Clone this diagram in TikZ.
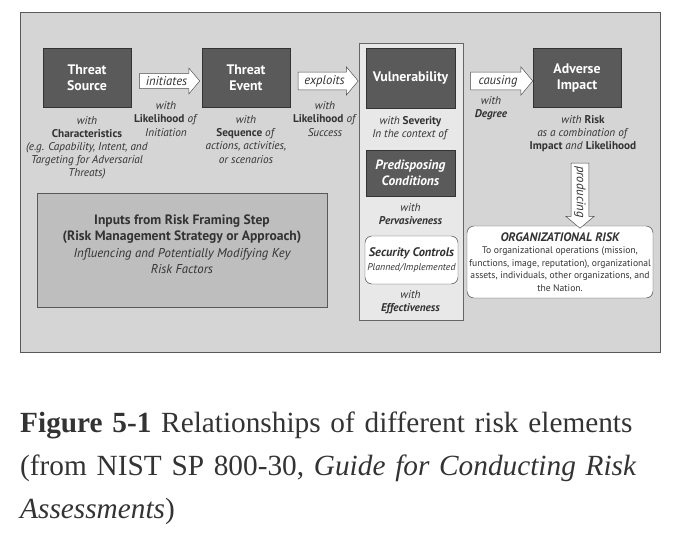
\documentclass[tikz,border=0pt]{standalone}
\usepackage{fontspec}
\setmainfont{Liberation Serif}
\newfontfamily\diagfont{PT Sans}
\usetikzlibrary{shapes.arrows,positioning,calc}

\definecolor{panelgray}{HTML}{D5D5D5}
\definecolor{boxdark}{HTML}{5A5A5A}
\definecolor{columngray}{HTML}{E8E8E8}
\definecolor{inputgray}{HTML}{BEBEBE}
\definecolor{inkgray}{HTML}{333333}

\begin{document}
\begin{tikzpicture}[x=0.03cm, y=-0.03cm,
  element/.style={draw=black!80, fill=boxdark, text=white, align=center,
    font=\diagfont\bfseries\fontsize{11.8}{13.5}\selectfont,
    minimum width=2.64cm, minimum height=1.77cm, inner sep=2pt},
  note/.style={font=\diagfont\fontsize{9.6}{11.2}\selectfont, align=center, text=inkgray, inner sep=0pt},
  flow/.style={single arrow, draw=black!70, fill=white, text=inkgray,
    font=\diagfont\itshape\fontsize{10.8}{12}\selectfont,
    single arrow head extend=4.5pt, single arrow tip angle=100,
    minimum height=1.8cm, inner sep=2.4pt},
  softbox/.style={draw=black!75, fill=white, rounded corners=6pt, align=center, text=inkgray}]
\useasboundingbox (0,0) rectangle (686,542);
% Background panels
\node[draw=black!65, fill=panelgray, minimum width=19.2cm, minimum height=10.2cm] (panel) at (340,182) {};
\node[draw=black!60, fill=columngray, minimum width=3.12cm, minimum height=8.31cm] (column) at (411,181.5) {};
\node[draw=black!65, fill=inputgray, minimum width=8.7cm, minimum height=3.42cm] (inputs) at (182,250) {};
\node[align=center, text=inkgray, font=\diagfont\fontsize{11.6}{13.5}\selectfont] (inputstext) at (182,244)
  {\bfseries Inputs from Risk Framing Step\\\bfseries (Risk Management Strategy or Approach)\\[1pt]
   \itshape\fontsize{10.9}{12.5}\selectfont Influencing and Potentially Modifying Key\\\itshape\fontsize{10.9}{12.5}\selectfont Risk Factors};
% Risk elements
\node[element] (source) at (87,78) {Threat\\Source};
\node[element] (event) at (246,78) {Threat\\Event};
\node[element, minimum width=2.67cm, minimum height=1.8cm] (vuln) at (410.5,78) {Vulnerability};
\node[element, font=\diagfont\bfseries\itshape\fontsize{11.5}{13.5}\selectfont, minimum width=2.67cm, minimum height=1.38cm] (predisp) at (410.5,173) {Predisposing\\Conditions};
\node[softbox, minimum width=2.79cm, minimum height=1.44cm, inner sep=1pt, font=\diagfont\itshape] (controls) at (411.5,260)
  {\bfseries\fontsize{10.6}{12}\selectfont Security Controls\\\fontsize{8.4}{10}\selectfont Planned/Implemented};
\node[element] (impact) at (577,78) {Adverse\\Impact};
\node[softbox, minimum width=5.58cm, minimum height=2.16cm, inner sep=1pt, font=\diagfont\fontsize{8.2}{10.8}\selectfont] (orgrisk) at (560,262)
  {\bfseries\itshape\fontsize{10.5}{12}\selectfont ORGANIZATIONAL RISK\\
   To organizational operations (mission,\\functions, image, reputation), organizational\\assets, individuals, other organizations, and\\the Nation.};
% Notes
\node[note] (sourcenote) at (87,148) {\textit{with}\\\textbf{Characteristics}\\\textit{(e.g. Capability, Intent, and}\\\textit{Targeting for Adversarial}\\\textit{Threats)}};
\node[note] (initnote) at (166,119) {\textit{with}\\\textbf{Likelihood} \textit{of}\\\textit{Initiation}};
\node[note] (eventnote) at (246,139.5) {\textit{with}\\\textbf{Sequence} \textit{of}\\\textit{actions, activities,}\\\textit{or scenarios}};
\node[note] (successnote) at (325,119) {\textit{with}\\\textbf{Likelihood} \textit{of}\\\textit{Success}};
\node[note] (severity) at (410.5,128) {\textit{with} \textbf{Severity}\\\textit{In the context of}};
\node[note] (pervasive) at (410.5,214.5) {\textit{with}\\\textbf{\textit{Pervasiveness}}};
\node[note] (effective) at (410.5,302) {\textit{with}\\\textbf{\textit{Effectiveness}}};
\node[note] (degree) at (491,108) {\textit{with}\\\textbf{\textit{Degree}}};
\node[note] (risknote) at (583,134) {\textit{with} \textbf{Risk}\\\textit{as a combination of}\\\textbf{Impact} \textit{and} \textbf{Likelihood}};
% Block arrows between the elements
\node[flow] (initiates) at ($(source.east)!0.5!(event.west)+(0,3)$) {initiates};
\node[flow] (exploits) at ($(event.east)!0.5!(column.west |- event.east)+(0,3)$) {exploits};
\node[flow, minimum height=1.86cm] (causing) at ($(column.east |- impact.west)!0.5!(impact.west)+(0,3)$) {causing};
\node[flow, rotate=-90, minimum height=1.95cm] (producing) at (580,192) {producing};
% Caption
\node[anchor=base west, text width=20cm, align=left, inner sep=0pt, text=inkgray,
  font=\fontsize{25}{36.6}\selectfont] (caption) at (20,433)
  {\textbf{Figure 5-1} Relationships of different risk elements\\
   (from NIST SP 800-30, \textit{Guide for Conducting Risk}\\
   \textit{Assessments})};
\end{tikzpicture}
\end{document}
